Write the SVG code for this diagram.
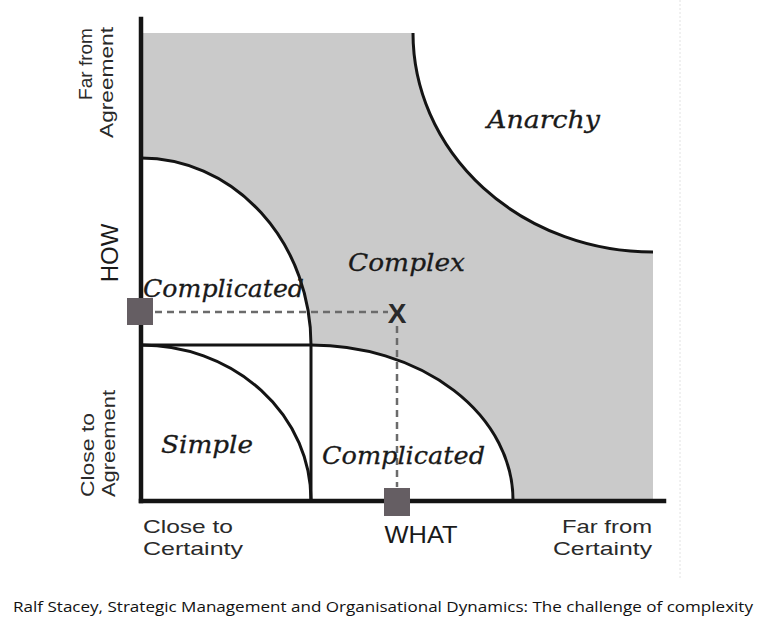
<svg xmlns="http://www.w3.org/2000/svg" width="765" height="632" viewBox="0 0 765 632">
<style>
.ax{stroke:#141414;stroke-width:4.5;fill:none;stroke-linecap:square}
.cv{stroke:#141414;stroke-width:3;fill:none}
.dash{stroke:#6b6b6b;stroke-width:2.5;stroke-dasharray:7 5;fill:none}
.reg{font-family:"DejaVu Serif","Liberation Serif",serif;font-style:italic;font-size:25px;fill:#1a1a1a;stroke:#1a1a1a;stroke-width:0.3}
.lab{font-family:"Liberation Sans","DejaVu Sans",sans-serif;font-size:19px;fill:#2a2a2a}
.big{font-family:"Liberation Sans","DejaVu Sans",sans-serif;font-size:24px;fill:#1a1a1a}
.sq{fill:#655e63}
</style>
<rect width="765" height="632" fill="#ffffff"/>
<line x1="680" y1="0" x2="680" y2="580" stroke="#e2e2e2" stroke-width="1" stroke-dasharray="2 2"/>
<g id="shaded">
<path d="M143,33 L413,33 A240,219 0 0 0 653,252 L653,500 L513,500 A202,155 0 0 0 311,345 A170,187 0 0 0 141,158 Z" fill="#cacaca"/>
</g>
<g id="connectors">
<line class="ax" x1="141" y1="19" x2="141" y2="501"/>
<line class="ax" x1="141" y1="501" x2="664" y2="501"/>
<path class="cv" d="M141,158 A170,187 0 0 1 311,345"/>
<line class="cv" x1="141" y1="345" x2="311" y2="345"/>
<line class="cv" x1="311" y1="345" x2="311" y2="500"/>
<path class="cv" d="M141,345 A170,155 0 0 1 311,500"/>
<path class="cv" d="M311,345 A202,155 0 0 1 513,500"/>
<path class="cv" d="M413,33 A240,219 0 0 0 653,252"/>
<line class="dash" x1="155" y1="312" x2="388" y2="312"/>
<line class="dash" x1="397" y1="326" x2="397" y2="487"/>
</g>
<g id="anarchy"><text class="reg" x="487" y="128" textLength="113" lengthAdjust="spacingAndGlyphs">Anarchy</text></g>
<g id="complex"><text class="reg" x="348" y="271" textLength="117" lengthAdjust="spacingAndGlyphs">Complex</text></g>
<g id="complicated-how"><text class="reg" x="143" y="297" textLength="161" lengthAdjust="spacingAndGlyphs">Complicated</text></g>
<g id="simple"><text class="reg" x="161" y="453" textLength="92" lengthAdjust="spacingAndGlyphs">Simple</text></g>
<g id="complicated-what"><text class="reg" x="322" y="464" textLength="163" lengthAdjust="spacingAndGlyphs">Complicated</text></g>
<g id="how-marker"><rect class="sq" x="127" y="298" width="26" height="27"/></g>
<g id="what-marker"><rect class="sq" x="384" y="488" width="26" height="28"/></g>
<g id="x-point"><text x="397" y="323" text-anchor="middle" font-family="Liberation Sans, sans-serif" font-weight="bold" font-size="28" fill="#2a2a2a">X</text></g>
<g id="axis-labels">
<text class="big" transform="translate(118,253) rotate(-90)" text-anchor="middle">HOW</text>
<text class="big" x="421" y="543" text-anchor="middle" textLength="73" lengthAdjust="spacingAndGlyphs">WHAT</text>
<text class="lab" transform="rotate(-90)"><tspan x="-100" y="92" textLength="72" lengthAdjust="spacingAndGlyphs">Far from</tspan><tspan x="-138" y="113" textLength="111" lengthAdjust="spacingAndGlyphs">Agreement</tspan></text>
<text class="lab" transform="rotate(-90)"><tspan x="-497" y="94" textLength="84" lengthAdjust="spacingAndGlyphs">Close to</tspan><tspan x="-497" y="115" textLength="107" lengthAdjust="spacingAndGlyphs">Agreement</tspan></text>
<text class="lab"><tspan x="143" y="533" textLength="90" lengthAdjust="spacingAndGlyphs">Close to</tspan><tspan x="143" y="555" textLength="100" lengthAdjust="spacingAndGlyphs">Certainty</tspan></text>
<text class="lab"><tspan x="562" y="533" textLength="90" lengthAdjust="spacingAndGlyphs">Far from</tspan><tspan x="553" y="555" textLength="99" lengthAdjust="spacingAndGlyphs">Certainty</tspan></text>
</g>
<g id="caption"><text x="13" y="612" font-family="Open Sans, Liberation Sans, sans-serif" font-size="15" fill="#111" textLength="740" lengthAdjust="spacingAndGlyphs">Ralf Stacey, Strategic Management and Organisational Dynamics: The challenge of complexity</text></g>
</svg>
